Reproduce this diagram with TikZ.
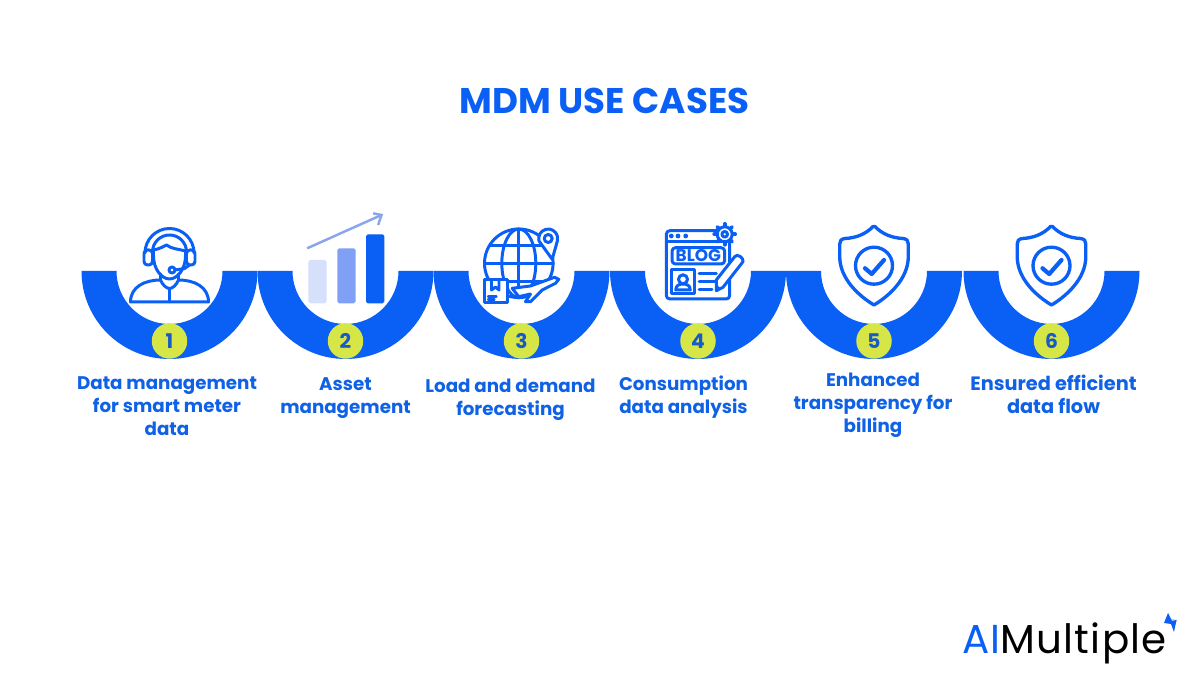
\documentclass[tikz,border=0pt]{standalone}
\usepackage{fontspec}
\setmainfont{Poppins}
\definecolor{mdmblue}{HTML}{0A5FF5}
\definecolor{textblue}{HTML}{0F62E6}
\definecolor{badgegreen}{HTML}{D7E647}
\definecolor{numblue}{HTML}{1A5AC8}
\definecolor{barlight}{HTML}{D6E0FB}
\definecolor{barmid}{HTML}{7FA0F5}
\definecolor{arrowblue}{HTML}{8AA5EA}
\definecolor{accentlilac}{HTML}{C9C8F5}
\tikzset{
	iconline/.style={draw=mdmblue,line width=1.7pt,line join=round,line cap=round},
	badge/.style={circle,fill=badgegreen,minimum size=20.2pt,inner sep=0pt,text=numblue,font=\fontsize{11.5}{12}\selectfont\bfseries},
	usecase/.style={text=textblue,align=center,inner sep=0pt,font=\fontsize{10.4}{13}\selectfont\bfseries},
	shieldicon/.pic={
		\draw[iconline,line width=1.9pt] (-1,44.5) .. controls (-8,37) and (-18,33) .. (-29,32.5) .. controls (-33,32) and (-34.3,30) .. (-34.3,27) -- (-34.3,14) .. controls (-34,-8) and (-15,-25) .. (0,-34) .. controls (15,-25) and (34,-8) .. (34.3,14) -- (34.3,27) .. controls (34.3,30) and (33,32) .. (29,32.5) .. controls (18,33) and (8,37) .. (1,44.5) -- cycle;
		\draw[iconline,line width=1.9pt] (0,5.3) circle[radius=18.5];
		\draw[iconline,line width=2.4pt] (-9,2.7) -- (-2.3,-3) -- (10,11);
	}
}
\begin{document}
\begin{tikzpicture}[x=0.02cm,y=0.02cm]
	\useasboundingbox[fill=white] (0,0) rectangle (1200,675);
	\node[text=mdmblue,font=\fontsize{20.3}{22}\selectfont\bfseries] (title) at (604.5,574) {MDM USE CASES};
	% half rings and numbers
	\foreach \cx/\num in {169.5/1,345.5/2,521.5/3,698/4,874/5,1051.5/6}{
		\fill[mdmblue] (\cx-88,404) arc[start angle=180,end angle=360,radius=88] -- (\cx+53,404) arc[start angle=0,end angle=-180,radius=53] -- cycle;
		\node[badge] (badge\num) at (\cx,334) {\num};
	}
	% labels
	\node[usecase] (label1) at (167,268.5) {Data management\\for smart meter\\data};
	\node[usecase] (label2) at (345.5,276.5) {Asset\\management};
	\node[usecase] (label3) at (510.5,275.5) {Load and demand\\forecasting};
	\node[usecase] (label4) at (683.5,277.5) {Consumption\\data analysis};
	\node[usecase] (label5) at (873,269.5) {Enhanced\\transparency for\\billing};
	\node[usecase,font=\fontsize{11}{13}\selectfont\bfseries] (label6) at (1053.5,280.5) {Ensured efficient\\data flow};
	% headset
	\begin{scope}[shift={(169.5,404)}]
		\draw[iconline] (-24.5,18) arc[start angle=180,end angle=0,radius=24.5];
		\draw[iconline] (-17,19) arc[start angle=180,end angle=0,radius=17];
		\draw[iconline,rounded corners=2pt] (-25.5,6) rectangle (-17,21);
		\draw[iconline,rounded corners=2pt] (17,6) rectangle (25.5,21);
		\draw[iconline] (-16,20) -- (-16,15) .. controls (-16,2) and (-8,-8) .. (0,-8) .. controls (8,-8) and (16,2) .. (16,15) -- (16,20);
		\draw[iconline] (-16,21) .. controls (-10,22) and (-5,25) .. (-3,26) .. controls (2,22) and (9,22) .. (16,20);
		\draw[iconline] (-39,-31) -- (39,-31) .. controls (39,-16) and (25,-9) .. (9,-9) .. controls (7,-14) and (3,-17.5) .. (0,-17.5) .. controls (-3,-17.5) and (-7,-14) .. (-9,-9) .. controls (-25,-9) and (-39,-16) .. cycle;
		\draw[iconline] (-9,-9) -- (-9,-3) (9,-9) -- (9,-3) (0,-17.5) -- (0,-31);
		\draw[iconline] (2.5,1) circle[radius=3];
		\draw[iconline] (5.5,1) -- (15,2.5) -- (20,6);
	\end{scope}
	% bars
	\begin{scope}[shift={(345.5,404)}]
		\fill[barlight,rounded corners=1pt] (-37.2,-32.3) rectangle (-18.8,11);
		\fill[barmid,rounded corners=1pt] (-8.2,-32.3) rectangle (10.2,22.7);
		\fill[mdmblue,rounded corners=1pt] (20.5,-32.3) rectangle (38.8,36.7);
		\draw[arrowblue,line width=1.4pt] (-38.3,22.7) -- (36,56);
		\draw[arrowblue,line width=1.4pt] (27.7,57.7) -- (36,56) -- (32.7,46);
	\end{scope}
	% globe
	\begin{scope}[shift={(521.5,404)}]
		\draw[iconline] (-2.7,7.7) circle[radius=34.3];
		\draw[iconline] (-2.7,7.7) ellipse[x radius=17,y radius=34.3];
		\draw[iconline] (-2.7,-26.6) -- (-2.7,42);
		\draw[iconline] (-31.9,25.7) -- (26.5,25.7) (-37,7.7) -- (31.6,7.7) (-31.9,-10.3) -- (26.5,-10.3);
		\draw[iconline,fill=white] (30.7,11.7) -- (17.5,30) arc[start angle=195,end angle=-15,radius=9.5] -- cycle;
		\draw[iconline] (26.7,32.5) circle[radius=4];
		\draw[iconline,fill=white] (-37,-9) rectangle (-14.3,-31.3);
		\draw[iconline] (-30,-9) -- (-30,-19) -- (-26,-16) -- (-22.5,-19) -- (-22.5,-9);
		\draw[iconline,line width=1.2pt] (-33.5,-25.5) -- (-25,-25.5) (-33.5,-28.5) -- (-27,-28.5);
		\draw[iconline,fill=white] (-9.3,-17.3) -- (9,-15) -- (33,-6.3) -- (37.3,-8.3) -- (34,-12.3) -- (20.7,-19) -- (9,-30.7) -- (4,-30.7) -- (9,-23) -- (-2.7,-25.7) -- cycle;
	\end{scope}
	% blog window
	\begin{scope}[shift={(698,404)}]
		\draw[iconline,rounded corners=2pt] (-31.7,40.3) rectangle (31.7,-28);
		\draw[iconline] (-31.7,29.3) -- (31.7,29.3);
		\foreach \dotx in {-26.7,-20,-12.3}
			\fill[mdmblue] (\dotx,35) circle[radius=2.4];
		\foreach \toothangle in {0,45,...,315}
			\draw[iconline,line width=2.2pt] (26.7,36.7) ++(\toothangle:7) -- ++(\toothangle:3.4);
		\draw[iconline,fill=white] (26.7,36.7) circle[radius=7.5];
		\draw[iconline] (26.7,36.7) circle[radius=2.8];
		\draw[iconline,rounded corners=2pt] (-26,23.3) rectangle (26.7,7);
		\node[text=mdmblue,font=\fontsize{9.6}{11}\selectfont\bfseries,inner sep=0pt] (blogtext) at (0.3,15.2) {BLOG};
		\draw[iconline] (-26.7,1) rectangle (-3.3,-22.3);
		\draw[iconline] (-15,-8.3) circle[radius=4.5];
		\draw[iconline] (-22.3,-19) .. controls (-22.3,-14) and (-18,-13) .. (-15,-13) .. controls (-12,-13) and (-7.7,-14) .. (-7.7,-19) -- cycle;
		\draw[iconline] (1,-2.3) -- (18.3,-2.3) (1,-10.7) -- (18.3,-10.7) (1,-18.3) -- (14,-18.3);
		\draw[iconline,fill=white] (18.3,-19.7) -- (18.3,-9) -- (36.7,14.3) .. controls (39,18) and (46,13) .. (45,9.3) -- (25,-16.3) -- cycle;
		\fill[mdmblue] (18.3,-19.7) -- (18.3,-13.5) -- (23,-17.5) -- cycle;
	\end{scope}
	% shields
	\path (874,404) pic {shieldicon};
	\path (1051.5,404) pic {shieldicon};
	% logo
	\node[anchor=base west,inner sep=0pt,font=\fontsize{23}{24}\addfontfeatures{LetterSpace=3}\selectfont] (logo) at (962,21) {\textcolor{mdmblue}{AI}\textcolor{black}{Multiple}};
	\fill[accentlilac] (1171,56) -- (1177,55) -- (1175,50) -- (1171,50) -- cycle;
	\fill[mdmblue] (1168,62) -- (1172,54) -- (1176.5,55) -- (1174,43) -- (1171,51) -- (1164,52) -- cycle;
\end{tikzpicture}
\end{document}
